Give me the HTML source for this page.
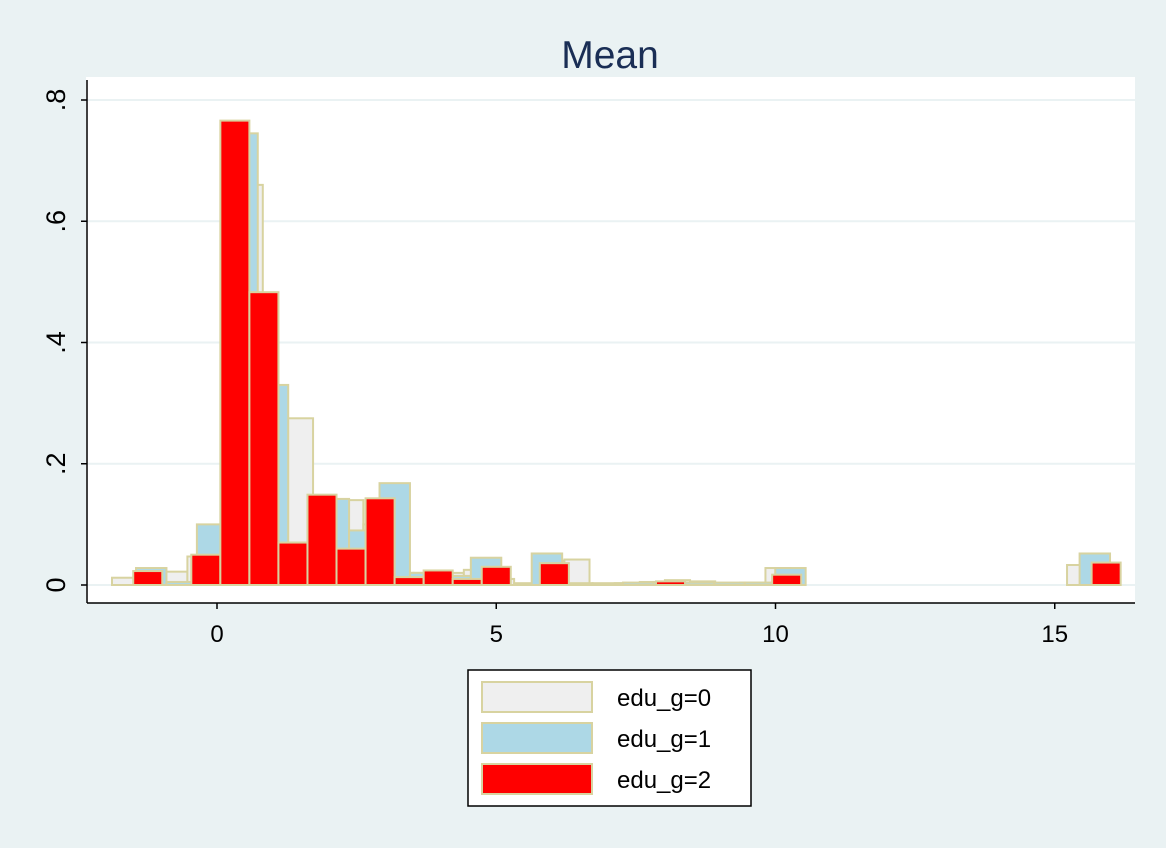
<!DOCTYPE html>
<html><head><meta charset="utf-8"><style>
body{margin:0;background:#eaf2f3;}
svg{display:block;font-family:"Liberation Sans",sans-serif;}
</style></head><body>
<svg id="chart" width="1166" height="848">
<rect x="0" y="0" width="1166" height="848" fill="#eaf2f3"/>
<rect x="86" y="77" width="1049" height="526" fill="#ffffff"/>
<text x="610" y="68" text-anchor="middle" font-size="39" fill="#1a2e55">Mean</text>
<g id="grid"></g><g id="bars"></g><g id="axes"></g>
<g>
<rect x="468" y="670" width="283" height="136" fill="#fff" stroke="#000" stroke-width="1.5"/>
<rect x="482" y="682" width="110" height="30" fill="#efefef" stroke="#d8d3a0" stroke-width="2"/>
<text x="617" y="706" font-size="24">edu_g=0</text>
<rect x="482" y="723" width="110" height="30" fill="#add8e6" stroke="#d8d3a0" stroke-width="2"/>
<text x="617" y="747" font-size="24">edu_g=1</text>
<rect x="482" y="764" width="110" height="30" fill="#ff0000" stroke="#d8d3a0" stroke-width="2"/>
<text x="617" y="788" font-size="24">edu_g=2</text>
</g>
</svg>
<script>
const xTicks=[0,5,10,15];
const yTicks=[0,0.2,0.4,0.6,0.8];
const yTickLabels=["0",".2",".4",".6",".8"];
const g0Start=-1.88, g0Width=0.45;
const g0Heights=[0.012,0.025,0.022,0.047,0.04,0.66,0.3,0.275,0.1,0.14,0.1,0.02,0.02,0.02,0.025,0.01,0.003,0.04,0.042,0.002,0.003,0.005,0.008,0.006,0.003,0.004,0.028,0,0,0,0,0,0,0,0,0,0,0,0.033];
const g1Start=-1.45, g1Width=0.545;
const g1Heights=[0.028,0.005,0.1,0.745,0.33,0.07,0.142,0.09,0.168,0.02,0.015,0.045,0,0.052,0.003,0.003,0.004,0.005,0.004,0.004,0.004,0.028,0,0,0,0,0,0,0,0,0,0.052];
const g2Start=-1.5, g2Width=0.52;
const g2Heights=[0.023,0,0.05,0.766,0.483,0.07,0.149,0.06,0.143,0.013,0.024,0.01,0.03,0,0.036,0,0,0,0.006,0,0,0,0.017,0,0,0,0,0,0,0,0,0,0,0.037];
const X=v=>217+v*55.85;
const Y=v=>585-v*606.25;
const NS="http://www.w3.org/2000/svg";
function mk(t,a,p){const e=document.createElementNS(NS,t);for(const k in a)e.setAttribute(k,a[k]);p.appendChild(e);return e;}
const grid=document.getElementById('grid'),bars=document.getElementById('bars'),axes=document.getElementById('axes');
yTicks.forEach((v,i)=>{
  const l=mk('line',{x1:87,x2:1135,y1:Y(v),y2:Y(v),stroke:'#eaf2f3','stroke-width':2},grid);
  
  
  const t=mk('line',{x1:81,x2:87,y1:Y(v),y2:Y(v),stroke:'#000','stroke-width':1.5},axes);
  
  
  const tx=mk('text',{x:0,y:0,'font-size':27,'text-anchor':'middle',transform:`translate(65,${Y(v)}) rotate(-90)`},axes);
  tx.textContent=yTickLabels[i];
  
  
});
xTicks.forEach(v=>{
  const t=mk('line',{x1:X(v),x2:X(v),y1:603,y2:609,stroke:'#000','stroke-width':1.5},axes);
  
  
  const tx=mk('text',{x:X(v),y:642,'font-size':24,'text-anchor':'middle'},axes);
  tx.textContent=String(v);
  
  
});
const ya=mk('line',{x1:87,x2:87,y1:80,y2:603,stroke:'#000','stroke-width':1.5},axes);


const xa=mk('line',{x1:87,x2:1135,y1:603,y2:603,stroke:'#000','stroke-width':1.5},axes);


function drawGroup(start,width,heights,fill,name){
  heights.forEach((h,i)=>{
    if(h<=0)return;
    const x0=X(start+i*width),x1=X(start+(i+1)*width);
    const r=mk('rect',{x:x0,y:Y(h),width:x1-x0,height:Y(0)-Y(h),fill:fill,stroke:'#d8d3a0','stroke-width':2},bars);
    
    
  });
}
drawGroup(g0Start,g0Width,g0Heights,'#efefef','bar-edu0');
drawGroup(g1Start,g1Width,g1Heights,'#add8e6','bar-edu1');
drawGroup(g2Start,g2Width,g2Heights,'#ff0000','bar-edu2');
</script>
</body></html>
